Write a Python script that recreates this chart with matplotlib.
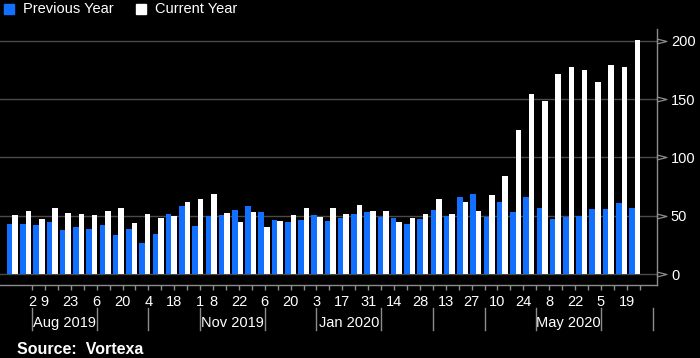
import matplotlib
matplotlib.use("Agg")
import matplotlib.pyplot as plt
from matplotlib.patches import Rectangle

plt.rcParams["font.family"] = ["Liberation Sans", "DejaVu Sans"]

# ── Data (weekly, one pair of bars per week) ─────────────────────────────
prev_year = [42.9, 42.6, 42.0, 44.3, 38.0, 40.3, 38.3, 41.7, 33.1, 38.6, 26.3, 34.6,
             51.4, 58.6, 41.4, 49.7, 50.6, 54.6, 58.6, 52.9, 46.0, 44.3, 46.3, 50.6,
             45.1, 48.3, 51.7, 52.9, 49.1, 48.0, 42.6, 47.1, 54.6, 50.0, 65.7, 68.9,
             48.6, 62.0, 53.4, 65.7, 56.6, 47.1, 49.1, 50.0, 56.0, 55.4, 60.6, 56.9]
curr_year = [50.3, 53.7, 47.4, 56.9, 52.0, 51.7, 50.3, 53.7, 56.9, 44.0, 51.7, 48.3,
             49.4, 61.4, 64.0, 68.3, 52.0, 44.9, 53.4, 40.6, 45.1, 50.9, 56.9, 49.1,
             56.3, 51.1, 58.9, 53.7, 54.0, 44.3, 48.3, 51.1, 64.0, 51.1, 61.4, 54.3,
             67.7, 83.7, 123.2, 154.6, 148.3, 171.7, 177.2, 175.2, 164.6, 178.9, 177.2, 200.9]

# weekly date ticks (Fridays from 2 Aug 2019); index -> day label
day_labels = {0: "2", 1: "9", 3: "23", 5: "6", 7: "20", 9: "4", 11: "18", 13: "1",
              14: "8", 16: "22", 18: "6", 20: "20", 22: "3", 24: "17", 26: "31",
              28: "14", 30: "28", 32: "13", 34: "27", 36: "10", 38: "24", 40: "8",
              42: "22", 44: "5", 46: "19"}
n_ticks = 48
month_starts = [0, 5, 9, 13, 18, 22, 27, 31, 35, 39, 44, 48]
month_labels = {0: "Aug 2019", 13: "Nov 2019", 22: "Jan 2020", 39: "May 2020"}

y_ticks = [0, 50, 100, 150, 200]

BLUE = "#1170ff"
GRID = "#4a4a4a"
AXIS = "#8c8c8c"
FS = 10.5


def tick_x(j):
    # date ticks run on a slightly tighter spacing than the bar slots
    return (19.5 + 12.93 * j) / 13.24


fig = plt.figure(figsize=(7, 3.58), dpi=100)
fig.patch.set_facecolor("black")
ax = fig.add_axes([0, 0.2039, 0.9386, 0.7151])
ax.set_facecolor("black")

x = list(range(len(prev_year)))
w = 0.42
ax.bar([i - w / 2 for i in x], prev_year, w, color=BLUE, zorder=3)
ax.bar([i + w / 2 for i in x], curr_year, w, color="white", zorder=3)

ax.set_xlim(-0.944, 48.68)
ax.set_ylim(-9.4, 210)

# y axis on the right
ax.set_yticks(y_ticks)
ax.yaxis.tick_right()
ax.tick_params(axis="y", length=0, pad=10, labelcolor="white", labelsize=FS)
ax.grid(axis="y", color=GRID, linewidth=1)
ax.set_axisbelow(True)
ax.plot([1.0] * len(y_ticks), y_ticks, ls="none",
        marker=[(0, -1), (4, 0), (0, 1), (0, -1)], markersize=13.5,
        mfc="none", mec=AXIS, mew=0.9,
        transform=ax.get_yaxis_transform(), clip_on=False, zorder=5)

for side in ("top", "left"):
    ax.spines[side].set_visible(False)
for side in ("right", "bottom"):
    ax.spines[side].set_color(AXIS)
    ax.spines[side].set_linewidth(1)

# x axis: weekly ticks
ax.set_xticks([tick_x(j) for j in range(n_ticks)])
ax.set_xticklabels([day_labels.get(j, "") for j in range(n_ticks)])
ax.tick_params(axis="x", length=3.5, width=1, color=AXIS, pad=4,
               labelcolor="white", labelsize=FS)

# month dividers + labels
xt = ax.get_xaxis_transform()
for j in month_starts:
    ax.plot([tick_x(j)] * 2, [-0.09, -0.176], color=AXIS, lw=1,
            transform=xt, clip_on=False)
for k, j in enumerate(month_starts[:-1]):
    if j in month_labels:
        mid = (tick_x(j) + tick_x(month_starts[k + 1])) / 2
        ax.text(mid, -0.163, month_labels[j], transform=xt, ha="center",
                va="baseline", color="white", fontsize=FS)

# legend
for x0, col, label in [(4, BLUE, "Previous Year"), (136, "white", "Current Year")]:
    fig.patches.append(Rectangle((x0 / 700, 1 - 14 / 358), 9.5 / 700, 10 / 358,
                                 transform=fig.transFigure, color=col))
    fig.text((x0 + 19) / 700, 1 - 9 / 358, label, color="white", fontsize=FS,
             va="center", ha="left")

fig.text(17 / 700, 1 - 354.3 / 358, "Source:  Vortexa", color="white",
         fontsize=11.5, fontweight="bold", va="baseline")

fig.savefig("out.png", dpi=100, facecolor=fig.get_facecolor())
plt.close(fig)
